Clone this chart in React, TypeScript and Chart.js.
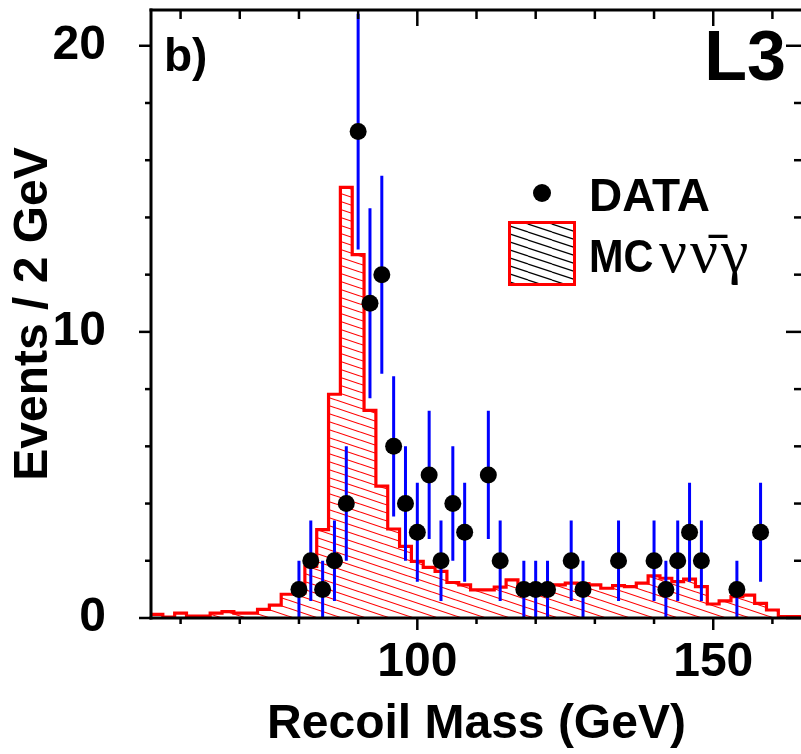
import React, { useEffect, useRef } from "react";
import { Chart, registerables } from "chart.js";

Chart.register(...registerables);

// ---- data ----
const binEdges = [
  55, 57, 59, 61, 63, 65, 67, 69, 71, 73, 75, 77, 79, 81, 83, 85, 87, 89, 91, 93,
  95, 97, 99, 101, 103, 105, 107, 109, 111, 113, 115, 117, 119, 121, 123, 125, 127,
  129, 131, 133, 135, 137, 139, 141, 143, 145, 147, 149, 151, 153, 155, 157, 159,
  161, 163, 165,
];
const mcValues = [
  0.07, 0.13, 0.03, 0.17, 0.07, 0.07, 0.17, 0.22, 0.17, 0.17, 0.3, 0.45, 0.83,
  0.87, 1.8, 3.09, 7.82, 15.05, 12.7, 7.26, 4.61, 3.11, 2.5, 1.98, 1.77, 1.63,
  1.24, 1.16, 0.98, 0.98, 1.08, 1.33, 1.16, 1.12, 1.12, 1.16, 1.22, 1.2, 1.16,
  1.04, 1.13, 1.1, 1.22, 1.47, 1.39, 1.27, 1.36, 1.1, 0.49, 0.6, 0.75, 0.8, 0.51,
  0.28, 0.05,
];
const dataMass = [
  80, 82, 84, 86, 88, 90, 92, 94, 96, 98, 100, 102, 104, 106, 108, 112, 114, 118,
  120, 122, 126, 128, 134, 140, 142, 144, 146, 148, 154, 158,
];
const dataCounts = [
  1, 2, 1, 2, 4, 17, 11, 12, 6, 4, 3, 5, 2, 4, 3, 5, 2, 1, 1, 1, 2, 1, 2, 2, 1, 2,
  3, 2, 1, 3,
];
const dataErrors = [
  1.0, 1.41, 1.0, 1.41, 2.0, 4.12, 3.32, 3.46, 2.45, 2.0, 1.73, 2.24, 1.41, 2.0,
  1.73, 2.24, 1.41, 1.0, 1.0, 1.0, 1.41, 1.0, 1.41, 1.41, 1.0, 1.41, 1.73, 1.41,
  1.0, 1.73,
];
const xMajorTicks = [100, 150];
const xMinorTicks = [60, 70, 80, 90, 110, 120, 130, 140, 160];
const yMajorTicks = [0, 10, 20];
const yMinorTicks = [2, 4, 6, 8, 12, 14, 16, 18];

const SANS = '"Liberation Sans", Arial, Helvetica, sans-serif';
const SERIF = '"Liberation Serif", "Times New Roman", serif';

function makeHatch(color: string, lw: number): CanvasPattern {
  const c = document.createElement("canvas");
  c.width = 24;
  c.height = 8;
  const g = c.getContext("2d")!;
  g.strokeStyle = color;
  g.lineWidth = lw;
  for (const k of [-1, 0, 1]) {
    g.beginPath();
    g.moveTo(0, k * 8);
    g.lineTo(24, k * 8 + 8);
    g.stroke();
  }
  return g.createPattern(c, "repeat")!;
}

const framePlugin = {
  id: "frame",
  afterDatasetsDraw(chart: any) {
    const { ctx, chartArea: a, scales } = chart;
    const x = scales.x;
    const y = scales.y;
    ctx.save();
    ctx.strokeStyle = "#000";
    ctx.lineWidth = 3;
    const seg = (x1: number, y1: number, x2: number, y2: number) => {
      ctx.beginPath();
      ctx.moveTo(x1, y1);
      ctx.lineTo(x2, y2);
      ctx.stroke();
    };
    // frame: left, bottom, top (right edge lies outside the picture)
    ctx.lineCap = "square";
    seg(a.left, a.top, a.left, a.bottom);
    seg(a.left, a.bottom, a.right, a.bottom);
    seg(a.left, a.top, a.right, a.top);
    ctx.lineCap = "butt";
    ctx.lineWidth = 2.5;
    for (const v of xMajorTicks) {
      const p = x.getPixelForValue(v);
      seg(p, a.bottom, p, a.bottom + 12);
      seg(p, a.top, p, a.top + 16);
    }
    for (const v of xMinorTicks) {
      const p = x.getPixelForValue(v);
      seg(p, a.bottom, p, a.bottom + 6);
      seg(p, a.top, p, a.top + 9);
    }
    for (const v of yMajorTicks) {
      const p = y.getPixelForValue(v);
      seg(a.left - 12, p, a.left, p);
      seg(a.right - 16, p, a.right, p);
    }
    for (const v of yMinorTicks) {
      const p = y.getPixelForValue(v);
      seg(a.left - 6, p, a.left, p);
      seg(a.right - 8, p, a.right, p);
    }
    ctx.restore();
  },
  afterDraw(chart: any) {
    const { ctx } = chart;
    ctx.save();
    ctx.fillStyle = "#000";
    ctx.textBaseline = "alphabetic";
    // panel label
    ctx.font = `bold 46px ${SANS}`;
    ctx.textAlign = "left";
    ctx.fillText("b)", 164, 71);
    // experiment label
    ctx.font = `bold 70px ${SANS}`;
    ctx.textAlign = "right";
    ctx.fillText("L3", 786, 80);
    // legend
    ctx.textAlign = "left";
    ctx.beginPath();
    ctx.arc(542, 193, 9, 0, Math.PI * 2);
    ctx.fill();
    ctx.font = `bold 46px ${SANS}`;
    ctx.fillText("DATA", 589, 211);
    ctx.fillStyle = makeHatch("#000", 1.2);
    ctx.fillRect(510, 223, 64, 61);
    ctx.strokeStyle = "#ff0000";
    ctx.lineWidth = 3;
    ctx.strokeRect(509.5, 222.5, 65, 62);
    ctx.fillStyle = "#000";
    ctx.save();
    ctx.translate(589, 272);
    ctx.scale(0.9, 1);
    ctx.font = `bold 46px ${SANS}`;
    ctx.fillText("MC", 0, 0);
    ctx.restore();
    ctx.font = `62px ${SERIF}`;
    (ctx as any).letterSpacing = "3px";
    ctx.fillText("\u03bd\u03bd\u0304\u03b3", 659, 272);
    ctx.restore();
  },
};

export default function App() {
  const ref = useRef<HTMLCanvasElement | null>(null);
  useEffect(() => {
    const canvas = ref.current!;
    const histPoints = binEdges.map((e, i) => ({
      x: e,
      y: i < mcValues.length ? mcValues[i] : mcValues[mcValues.length - 1],
    }));
    const errPoints: { x: number; y: number | null }[] = [];
    dataMass.forEach((m, i) => {
      errPoints.push({ x: m, y: Math.max(0, dataCounts[i] - dataErrors[i]) });
      errPoints.push({ x: m, y: dataCounts[i] + dataErrors[i] });
      errPoints.push({ x: m, y: null });
    });
    const pts = dataMass.map((m, i) => ({ x: m, y: dataCounts[i] }));
    const chart = new Chart(canvas, {
      type: "scatter",
      data: {
        datasets: [
          {
            type: "line",
            label: "MC",
            data: histPoints,
            showLine: true,
            stepped: "after",
            borderColor: "#ff0000",
            borderWidth: 3.2,
            backgroundColor: makeHatch("#ff0000", 1.1),
            fill: "origin",
            pointRadius: 0,
            order: 3,
          } as any,
          {
            type: "line",
            label: "err",
            data: errPoints,
            showLine: true,
            spanGaps: false,
            borderColor: "#0000ff",
            borderWidth: 3,
            borderCapStyle: "butt",
            fill: false,
            pointRadius: 0,
            order: 2,
          } as any,
          {
            type: "scatter",
            label: "DATA",
            data: pts,
            pointRadius: 8.5,
            backgroundColor: "#000",
            borderColor: "#000",
            borderWidth: 0,
            order: 1,
          } as any,
        ],
      },
      options: {
        responsive: false,
        animation: false,
        devicePixelRatio: 1,
        layout: { autoPadding: false, padding: { top: 10, right: 4, bottom: 0, left: 0 } },
        plugins: { legend: { display: false }, tooltip: { enabled: false } },
        scales: {
          x: {
            type: "linear",
            min: 55,
            max: 165,
            grid: { display: false, drawTicks: false },
            border: { display: false },
            ticks: {
              color: "#000",
              font: { family: SANS, size: 48, weight: "bold" },
              padding: 16,
              maxRotation: 0,
              autoSkip: false,
            },
            afterBuildTicks: (s: any) => {
              s.ticks = xMajorTicks.map((v) => ({ value: v }));
            },
            afterFit: (s: any) => {
              s.height = 136;
              s.paddingLeft = 0;
              s.paddingRight = 0;
              s.paddingTop = 0;
              s.paddingBottom = 0;
            },
            title: {
              display: true,
              text: "Recoil Mass (GeV)",
              color: "#000",
              font: { family: SANS, size: 48, weight: "bold" },
              padding: { top: 0, bottom: 0 },
            },
          },
          y: {
            type: "linear",
            min: 0,
            max: 21.25,
            grid: { display: false, drawTicks: false },
            border: { display: false },
            ticks: {
              color: "#000",
              font: { family: SANS, size: 48, weight: "bold" },
              padding: 45,
              autoSkip: false,
            },
            afterBuildTicks: (s: any) => {
              s.ticks = yMajorTicks.map((v) => ({ value: v }));
            },
            afterFit: (s: any) => {
              s.width = 151;
              s.paddingLeft = 0;
              s.paddingRight = 0;
              s.paddingTop = 0;
              s.paddingBottom = 0;
            },
            title: {
              display: true,
              text: "Events / 2 GeV",
              color: "#000",
              font: { family: SANS, size: 48, weight: "bold" },
              padding: { top: 5, bottom: 0 },
            },
          },
        },
      } as any,
      plugins: [framePlugin],
    });
    return () => chart.destroy();
  }, []);
  return (
    <div
      style={{
        position: "fixed",
        left: 0,
        top: 0,
        width: 801,
        height: 754,
        overflow: "hidden",
        background: "#fff",
      }}
    >
      <canvas ref={ref} width={806} height={754} style={{ display: "block" }} />
    </div>
  );
}
